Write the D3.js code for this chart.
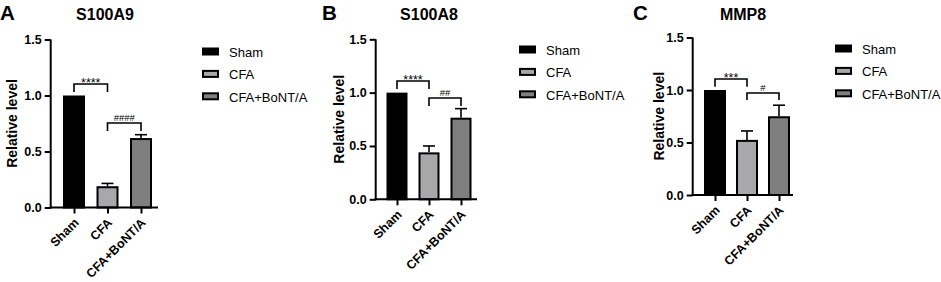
<!DOCTYPE html>
<html><head><meta charset="utf-8">
<script src="https://cdn.jsdelivr.net/npm/d3@7"></script>
<style>body{margin:0;background:#fff}svg{display:block}text{font-family:"Liberation Sans",Arial,sans-serif}</style>
</head><body>
<script>
const categories = ["Sham", "CFA", "CFA+BoNT/A"];
const panelLetters = ["A", "B", "C"];
const panelTitles = ["S100A9", "S100A8", "MMP8"];
const meansA = [1.0, 0.19, 0.62];
const errA = [0, 0.025, 0.03];
const meansB = [1.0, 0.44, 0.765];
const errB = [0, 0.06, 0.085];
const meansC = [1.0, 0.525, 0.75];
const errC = [0, 0.085, 0.105];
const sig1 = ["****", "****", "***"];
const sig2 = ["####", "##", "#"];
const yTicks = [0, 0.5, 1.0, 1.5];
const colors = ["#000000", "#a8a8ab", "#7f7f7f"];

const layout = [
  {ax:50.7, y0:207.5, y1:39.5, c0:74, step:33.5, bw:22, xEnd:158, letterX:0, titleX:105, labX:17, legX:202, legY:52, b1:[84,92], b2:[123,131]},
  {ax:375.7, y0:199.3, y1:39.3, c0:397, step:32, bw:21, xEnd:477, letterX:322, titleX:429, labX:343.5, legX:519, legY:50, b1:[81,89], b2:[98,106]},
  {ax:692.7, y0:195, y1:37.5, c0:715, step:32, bw:22, xEnd:793, letterX:633, titleX:743, labX:663.5, legX:835, legY:49, b1:[79,86.7], b2:[93,100]}
];
const means = [meansA, meansB, meansC];
const errs = [errA, errB, errC];
const FF = '"Liberation Sans",Arial,sans-serif';

const svg = d3.select("body").append("svg").attr("width", 941).attr("height", 282);

layout.forEach((L, p) => {
  const g = svg.append("g");
  const y = d3.scaleLinear().domain([0, 1.5]).range([L.y0, L.y1]);
  const x = d3.scalePoint().domain(categories).range([L.c0, L.c0 + 2*L.step]);

  g.append("text").attr("x", L.letterX).attr("y", 20).attr("font-size", 20.5).attr("font-weight", "bold").text(panelLetters[p]);
  g.append("text").attr("x", L.titleX).attr("y", 19.5).attr("text-anchor", "middle").attr("font-size", 16).attr("font-weight", "bold").text(panelTitles[p]);

  categories.forEach((c, i) => {
    const v = means[p][i], e = errs[p][i];
    const cx = x(c);
    if (e > 0) {
      g.append("line").attr("x1", cx).attr("x2", cx).attr("y1", y(v)).attr("y2", y(v+e)).attr("stroke", "#000").attr("stroke-width", 1.6);
      g.append("line").attr("x1", cx-6).attr("x2", cx+6).attr("y1", y(v+e)).attr("y2", y(v+e)).attr("stroke", "#000").attr("stroke-width", 1.6);
    }
    g.append("rect").attr("x", cx - L.bw/2 + 1).attr("width", L.bw - 2)
      .attr("y", y(v) + 1).attr("height", y(0) - y(v) - 1)
      .attr("fill", colors[i]).attr("stroke", "#000").attr("stroke-width", 2);
  });

  const yAxis = d3.axisLeft(y).tickValues(yTicks).tickFormat(d3.format(".1f")).tickSize(6).tickSizeOuter(0);
  const ya = g.append("g").attr("transform", `translate(${L.ax},0)`).call(yAxis);
  ya.select(".domain").attr("stroke-width", 2).attr("d", `M0,${L.y0+1}V${L.y1}`);
  ya.selectAll(".tick line").attr("stroke-width", 2);
  ya.selectAll(".tick text").attr("font-size", 12.5).attr("font-weight", "bold").attr("font-family", FF).attr("fill", "#000").attr("x", -9);

  const xAxis = d3.axisBottom(x).tickSize(6).tickSizeOuter(0);
  const xa = g.append("g").attr("transform", `translate(0,${L.y0})`).call(xAxis);
  xa.select(".domain").attr("stroke-width", 2).attr("d", `M${L.ax-1},0H${L.xEnd}`);
  xa.selectAll(".tick line").attr("stroke-width", 2);
  xa.selectAll(".tick text").attr("font-size", 12.5).attr("font-weight", "bold").attr("font-family", FF).attr("fill", "#000")
    .attr("text-anchor", "end").attr("dy", 0).attr("y", 0)
    .attr("transform", "translate(5,16) rotate(-45)");

  g.append("text").attr("transform", `translate(${L.labX},${(L.y0+L.y1)/2}) rotate(-90)`)
    .attr("text-anchor", "middle").attr("font-size", 14).attr("font-weight", "bold").text("Relative level");

  const br = (x1, x2, top, bot, label, fs, dy) => {
    g.append("path").attr("d", `M${x1},${bot}V${top}H${x2}V${bot}`).attr("fill", "none").attr("stroke", "#000").attr("stroke-width", 1.6);
    g.append("text").attr("x", (x1+x2)/2).attr("y", top + dy).attr("text-anchor", "middle").attr("font-size", fs).text(label);
  };
  br(x(categories[0]), x(categories[1]), L.b1[0], L.b1[1], sig1[p], 12.5, 2.5);
  br(x(categories[1]), x(categories[2]), L.b2[0], L.b2[1], sig2[p], 9.5, -2.5);

  categories.forEach((c, i) => {
    const ly = L.legY + i*22.4;
    g.append("rect").attr("x", L.legX + 1).attr("y", ly - 3.5).attr("width", 15).attr("height", 6)
      .attr("fill", colors[i]).attr("stroke", "#000").attr("stroke-width", 2);
    g.append("text").attr("x", L.legX + 27).attr("y", ly + 5).attr("font-size", 13).text(c);
  });
});
</script>
</body></html>
